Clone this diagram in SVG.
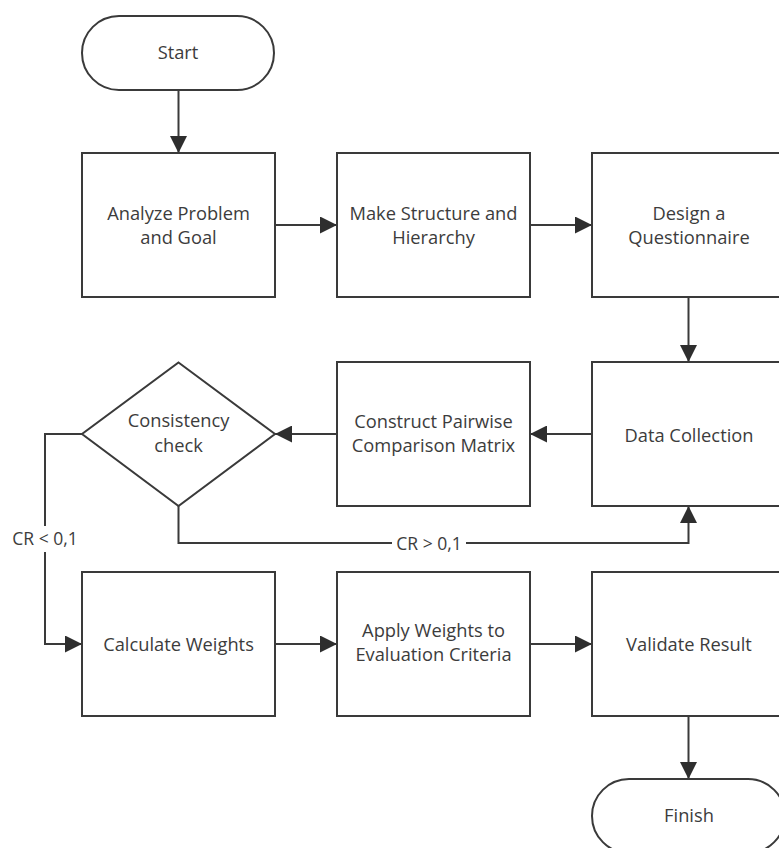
<svg xmlns="http://www.w3.org/2000/svg" width="779" height="848" viewBox="0 0 779 848">
  <defs>
    <marker id="arrow" markerUnits="userSpaceOnUse" markerWidth="17" markerHeight="17" refX="17" refY="8.5" orient="auto">
      <path d="M0,0 L17,8.5 L0,17 Z" fill="#2e2e2e"/>
    </marker>
    <style>
      .shape { fill: #ffffff; stroke: #3a3a3a; stroke-width: 2; }
      .edge { fill: none; stroke: #3a3a3a; stroke-width: 2; }
      .arrow { marker-end: url(#arrow); }
      .label { font-family: "Open Sans", "Noto Sans", "Liberation Sans", sans-serif; font-size: 18.3px; fill: #3c3c3c; text-anchor: middle; }
      .small { font-size: 17.5px; }
    </style>
  </defs>
  <rect width="779" height="848" fill="#ffffff"/>

  <!-- connectors -->
  <g id="connectors">
    <path class="edge arrow" d="M178.5,90 V153"/>
    <path class="edge arrow" d="M275,225 H337"/>
    <path class="edge arrow" d="M530,225 H592"/>
    <path class="edge arrow" d="M688.5,297 V362"/>
    <path class="edge arrow" d="M592,434 H530"/>
    <path class="edge arrow" d="M337,434 H275"/>
    <!-- consistent branch -->
    <path class="edge" d="M82,434 H45 V526"/>
    <path class="edge arrow" d="M45,552 V644 H82"/>
    <text class="label small" x="45" y="545">CR &lt; 0,1</text>
    <!-- inconsistent branch, back to data collection -->
    <path class="edge" d="M178.5,506 V543 H392"/>
    <path class="edge arrow" d="M466,543 H688.5 V506"/>
    <text class="label small" x="429" y="549.5">CR &gt; 0,1</text>
    <path class="edge arrow" d="M275,644 H337"/>
    <path class="edge arrow" d="M530,644 H592"/>
    <path class="edge arrow" d="M688.5,716 V779"/>
  </g>

  <g id="start">
    <rect class="shape" x="82" y="16" width="192" height="74" rx="37" ry="37"/>
    <text class="label" x="178" y="59">Start</text>
  </g>

  <g id="analyze">
    <rect class="shape" x="82" y="153" width="193" height="144"/>
    <text class="label" x="178.5" y="220">Analyze Problem</text>
    <text class="label" x="178.5" y="244">and Goal</text>
  </g>

  <g id="structure">
    <rect class="shape" x="337" y="153" width="193" height="144"/>
    <text class="label" x="433.5" y="220">Make Structure and</text>
    <text class="label" x="433.5" y="244">Hierarchy</text>
  </g>

  <g id="questionnaire">
    <rect class="shape" x="592" y="153" width="193" height="144"/>
    <text class="label" x="689" y="220">Design a</text>
    <text class="label" x="689" y="244">Questionnaire</text>
  </g>

  <g id="data-collection">
    <rect class="shape" x="592" y="362" width="193" height="144"/>
    <text class="label" x="689" y="441.5">Data Collection</text>
  </g>

  <g id="pairwise">
    <rect class="shape" x="337" y="362" width="193" height="144"/>
    <text class="label" x="433.5" y="428">Construct Pairwise</text>
    <text class="label" x="433.5" y="452">Comparison Matrix</text>
  </g>

  <g id="consistency">
    <path class="shape" d="M178.5,362.5 L275,434 L178.5,506 L82,434 Z"/>
    <text class="label" x="178.5" y="427">Consistency</text>
    <text class="label" x="178.5" y="452">check</text>
  </g>

  <g id="weights">
    <rect class="shape" x="82" y="572" width="193" height="144"/>
    <text class="label" x="178.5" y="651">Calculate Weights</text>
  </g>

  <g id="apply">
    <rect class="shape" x="337" y="572" width="193" height="144"/>
    <text class="label" x="433.5" y="637">Apply Weights to</text>
    <text class="label" x="433.5" y="661">Evaluation Criteria</text>
  </g>

  <g id="validate">
    <rect class="shape" x="592" y="572" width="193" height="144"/>
    <text class="label" x="689" y="651">Validate Result</text>
  </g>

  <g id="finish">
    <rect class="shape" x="592" y="779" width="193" height="74" rx="37" ry="37"/>
    <text class="label" x="689" y="822">Finish</text>
  </g>
</svg>
